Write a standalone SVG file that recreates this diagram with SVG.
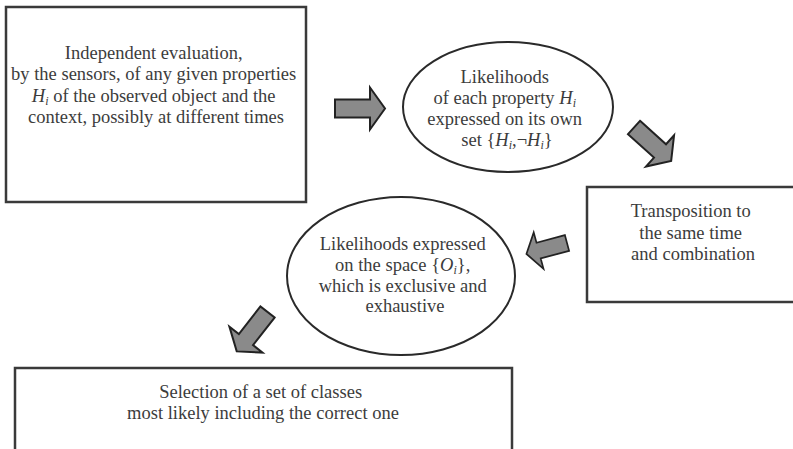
<svg xmlns="http://www.w3.org/2000/svg" width="793" height="449" viewBox="0 0 793 449">
<style>
.box{fill:#fff;stroke:#3a3a3a;stroke-width:2.5}
.ell{fill:#fff;stroke:#2a2a2a;stroke-width:2}
.t{font-family:"Liberation Serif","Times New Roman",serif;font-size:18.5px;fill:#3c3c3c;text-anchor:middle}
.i{font-style:italic}
.s{font-style:italic;font-size:12px}
.arr{fill:#8a8a8a;stroke:#222;stroke-width:2;stroke-linejoin:miter}
</style>
<defs>
<polygon id="blk" points="0,-9 35,-9 35,-21 50,0 35,21 35,9 0,9"/>
</defs>
<rect width="793" height="449" fill="#fff"/>
<g id="n1">
<rect class="box" x="6" y="7" width="300" height="195"/>
<text class="t">
<tspan x="156" y="59">Independent evaluation,</tspan>
<tspan x="156" y="80">by the sensors, of any given properties</tspan>
<tspan x="156" y="102"><tspan class="i">H</tspan><tspan class="s" dy="3">i</tspan><tspan dy="-3"> of the observed object and the</tspan></tspan>
<tspan x="156" y="123">context, possibly at different times</tspan>
</text>
</g>
<g id="n2">
<ellipse class="ell" cx="508" cy="107" rx="105" ry="65"/>
<text class="t">
<tspan x="507" y="83">Likelihoods</tspan>
<tspan x="507" y="104">of each property <tspan class="i">H</tspan><tspan class="s" dy="3">i</tspan></tspan>
<tspan x="507" y="125">expressed on its own</tspan>
<tspan x="507" y="146">set {<tspan class="i">H</tspan><tspan class="s" dy="3">i</tspan><tspan dy="-3">,¬</tspan><tspan class="i">H</tspan><tspan class="s" dy="3">i</tspan><tspan dy="-3">}</tspan></tspan>
</text>
</g>
<g id="n3">
<rect class="box" x="587" y="187" width="215" height="115"/>
<text class="t">
<tspan x="693" y="217">Transposition to</tspan>
<tspan x="693" y="239">the same time</tspan>
<tspan x="693" y="260">and combination</tspan>
</text>
</g>
<g id="n4">
<ellipse class="ell" cx="401" cy="276" rx="114" ry="79"/>
<text class="t">
<tspan x="405" y="250">Likelihoods expressed</tspan>
<tspan x="405" y="271">on the space {<tspan class="i">O</tspan><tspan class="s" dy="3">i</tspan><tspan dy="-3">},</tspan></tspan>
<tspan x="405" y="292">which is exclusive and</tspan>
<tspan x="405" y="312">exhaustive</tspan>
</text>
</g>
<g id="n5">
<rect class="box" x="15" y="368" width="497" height="95"/>
<text class="t">
<tspan x="263" y="398">Selection of a set of classes</tspan>
<tspan x="263" y="419">most likely including the correct one</tspan>
</text>
</g>
<g id="connectors">
<use href="#blk" class="arr" transform="translate(335,108.5)"/>
<use href="#blk" class="arr" transform="translate(634,127.5) rotate(42)"/>
<use href="#blk" class="arr" transform="translate(567,243) rotate(165) scale(0.84,0.9)"/>
<use href="#blk" class="arr" transform="translate(267.5,312) rotate(128)"/>
</g>
</svg>
